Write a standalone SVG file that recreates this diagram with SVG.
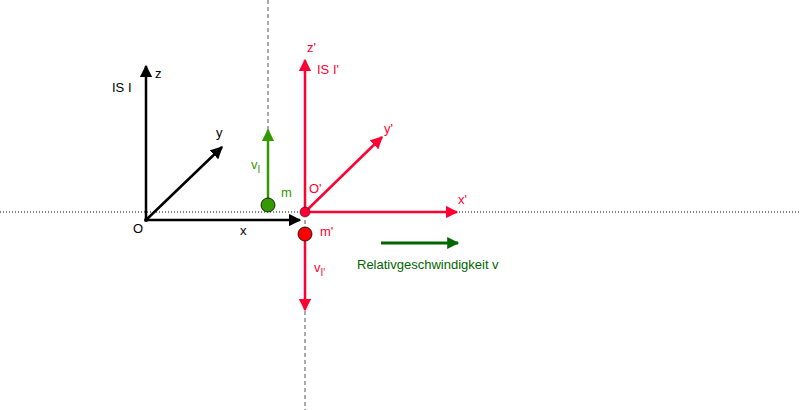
<svg xmlns="http://www.w3.org/2000/svg" width="800" height="410" viewBox="0 0 800 410">
<style>
text{font-family:"Liberation Sans",Arial,sans-serif;font-size:13px}
.k{stroke:#000;stroke-width:2.5;fill:none}
.r{stroke:#ff0033;stroke-width:2.5;fill:none}
.g{stroke:#339900;stroke-width:2.5;fill:none}
.dg{stroke:#006600;stroke-width:3;fill:none}
.rt{fill:#ff0033}.gt{fill:#339900}
</style>
<defs>
<marker id="ak" viewBox="0 0 10 10" refX="9" refY="5" markerWidth="5" markerHeight="5" orient="auto" markerUnits="strokeWidth"><path d="M0,0L10,5L0,10z" fill="#000"/></marker>
<marker id="ar" viewBox="0 0 10 10" refX="9" refY="5" markerWidth="5" markerHeight="5" orient="auto" markerUnits="strokeWidth"><path d="M0,0L10,5L0,10z" fill="#ff0033"/></marker>
<marker id="ag" viewBox="0 0 10 10" refX="9" refY="5" markerWidth="5" markerHeight="5" orient="auto" markerUnits="strokeWidth"><path d="M0,0L10,5L0,10z" fill="#339900"/></marker>
<marker id="adg" viewBox="0 0 10 10" refX="9" refY="5" markerWidth="5" markerHeight="4" orient="auto" markerUnits="strokeWidth"><path d="M0,0L10,5L0,10z" fill="#006600"/></marker>
</defs>
<g id="guides">
<line x1="0" y1="212" x2="800" y2="212" stroke="#000" stroke-dasharray="1,2"/>
<line x1="268" y1="0" x2="268" y2="205" stroke="#555" stroke-dasharray="4,3"/>
<line x1="305" y1="220" x2="305" y2="410" stroke="#555" stroke-dasharray="4,3"/>
</g>
<g id="connectors">
<line class="k" x1="146" y1="220" x2="146" y2="66" marker-end="url(#ak)"/>
<line class="k" x1="146" y1="220" x2="222" y2="147" marker-end="url(#ak)"/>
<line class="k" x1="146" y1="220" x2="300" y2="220" marker-end="url(#ak)"/>
<line class="r" x1="305" y1="212" x2="305" y2="60" marker-end="url(#ar)"/>
<line class="r" x1="305" y1="212" x2="382" y2="137" marker-end="url(#ar)"/>
<line class="r" x1="305" y1="212" x2="457" y2="212" marker-end="url(#ar)"/>
<line class="r" x1="305" y1="241" x2="305" y2="310" marker-end="url(#ar)"/>
<line class="g" x1="268" y1="205" x2="268" y2="130" marker-end="url(#ag)"/>
<line class="dg" x1="381" y1="243" x2="458" y2="243" marker-end="url(#adg)"/>
</g>
<g id="IS-I">
<circle cx="146" cy="220" r="2" fill="#000"/>
<text x="112" y="92">IS I</text>
<text x="155" y="78">z</text>
<text x="216" y="137">y</text>
<text x="240" y="235">x</text>
<text x="133" y="233">O</text>
</g>
<g id="IS-I-prime">
<circle cx="305" cy="212" r="5" fill="#ff0033" stroke="#000" stroke-width="0.5"/>
<text class="rt" x="307" y="52">z'</text>
<text class="rt" x="317" y="74">IS I'</text>
<text class="rt" x="384" y="133">y'</text>
<text class="rt" x="458" y="204">x'</text>
<text class="rt" x="309" y="193">O'</text>
</g>
<g id="m">
<circle cx="268" cy="205" r="7" fill="#339900" stroke="#000" stroke-width="0.8"/>
<text class="gt" x="281" y="197">m</text>
<text class="gt" x="251" y="169">v<tspan font-size="10" dy="4">I</tspan></text>
</g>
<g id="m-prime">
<circle cx="305" cy="234" r="7" fill="#ff0000" stroke="#000" stroke-width="0.8"/>
<text class="rt" x="320" y="236">m'</text>
<text class="rt" x="314" y="272">v<tspan font-size="10" dy="4">I'</tspan></text>
</g>
<g id="relative">
<text x="357" y="269" fill="#006600">Relativgeschwindigkeit v</text>
</g>
</svg>
